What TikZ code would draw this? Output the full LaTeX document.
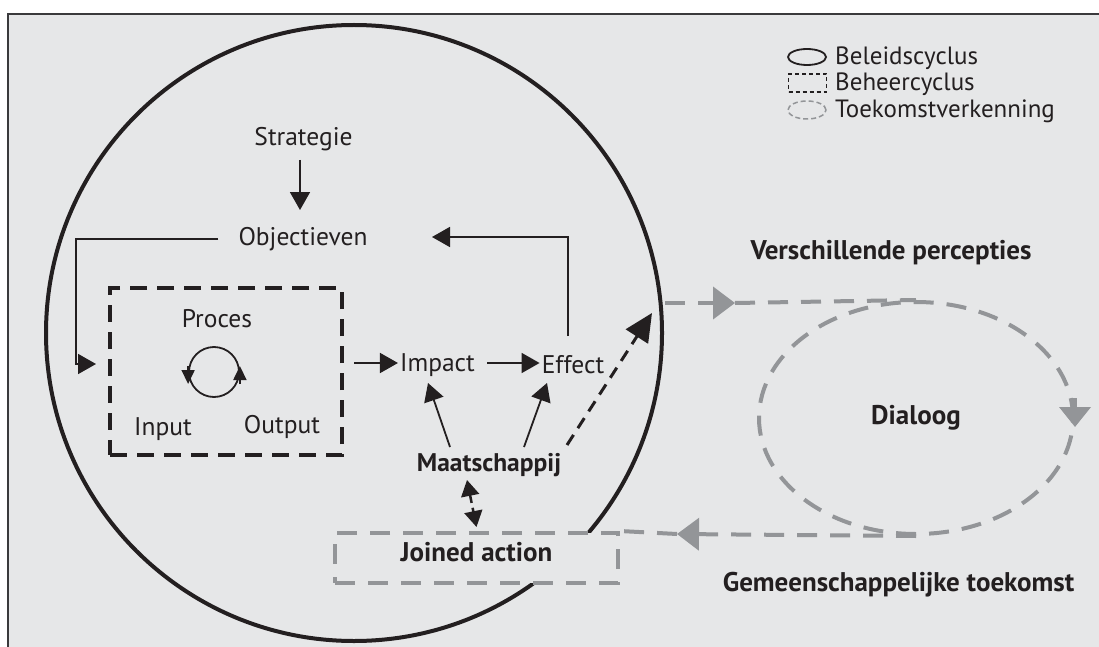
\documentclass[tikz,border=0pt]{standalone}
\usepackage{fontspec}
\setmainfont{PT Sans}
\usetikzlibrary{arrows.meta,shapes.geometric,calc}
\definecolor{bg}{HTML}{E6E7E8}
\definecolor{gr}{HTML}{939598}
\definecolor{ink}{HTML}{231F20}
\definecolor{frame}{HTML}{3A3A3C}
\begin{document}
\begin{tikzpicture}[x=1pt,y=-1pt,
  lbl/.style={font=\fontsize{25.5}{28}\selectfont, text=ink, inner sep=2pt},
  leg/.style={font=\fontsize{25}{28}\selectfont, text=ink, inner sep=2pt},
  blbl/.style={font=\fontsize{27}{30}\selectfont\bfseries, text=ink, inner sep=2pt},
  conn/.style={draw=ink, line width=1.8pt, -{Triangle[length=18pt,width=20pt]}},
  dconn/.style={draw=ink, line width=3pt, dash pattern=on 12pt off 8pt},
  gline/.style={draw=gr, line width=4pt, dash pattern=on 20pt off 13pt},
  gtip/.style={-{Triangle[length=22pt,width=32pt]}},
  bigcirc/.style={draw=ink, line width=4pt},
  procbox/.style={draw=ink, line width=4pt, dash pattern=on 17pt off 10pt, minimum width=232, minimum height=167},
]
\useasboundingbox (0,0) rectangle (1099,647);
\fill[bg] (8,14) rectangle (1099,647);
\draw[frame, line width=2pt] (8,647) -- (8,14) -- (1099,14);

% big policy circle
\draw[bigcirc] (354,333) circle (308);

% process box
\node[procbox] (proc) at (226,371.5) {};
\node[lbl] (proces) at (217,319) {Proces};
\node[lbl] (input) at (163,429) {Input};
\node[lbl] (output) at (282,427) {Output};
\node[circle, draw=ink, line width=1.8pt, minimum size=50, inner sep=0] (cyc) at (214,372) {};
\draw[draw=ink, line width=1.8pt, -{Triangle[length=14pt,width=13pt]}] ($(cyc.west)+(0,-6)$) -- ($(cyc.west)+(0,12)$);
\draw[draw=ink, line width=1.8pt, -{Triangle[length=14pt,width=13pt]}] ($(cyc.east)+(0,12)$) -- ($(cyc.east)+(0,-6)$);

% texts
\node[lbl] (strat) at (303.5,139) {Strategie};
\node[lbl] (obj) at (303,239) {Objectieven};
\node[lbl] (impact) at (437.5,365) {Impact};
\node[lbl] (effect) at (573,365) {Effect};
\node[blbl, font=\fontsize{25.5}{28}\selectfont\bfseries] (maat) at (489,465) {Maatschappij};
\node[blbl] (persp) at (891,253) {Verschillende percepties};
\node[blbl] (toek) at (898.5,585) {Gemeenschappelijke toekomst};

% joined action box
\node[draw=gr, fill=bg, line width=4pt, dash pattern=on 20pt off 13pt, minimum width=283, minimum height=50, blbl, text depth=0pt, text height=0.7em] (joined) at (476.5,558) {Joined action};

% dialog ellipse
\node[ellipse, draw=gr, line width=4pt, dash pattern=on 20pt off 13pt, minimum width=314, minimum height=232, blbl] (dialog) at (916,418) {Dialoog};

% black connectors
\coordinate (cA) at (76,364);
\coordinate (cB) at (432,237);
\coordinate (cP) at (652,313);
\draw[conn] ($(strat.center)+(-3.5,21)$) -- ($(obj.center)+(-3,-29)$);
\draw[conn, shorten <=18pt, shorten >=12pt] (obj.west) -| (cA) -- (proc.west |- cA);
\draw[conn] ($(proc.east |- cA)+(10,-1)$) -- ($(impact.west)+(0,-2)$);
\draw[conn, shorten <=10pt] ($(impact.east)+(0,-2)$) -- ($(effect.west)+(0,-2)$);
\draw[conn] ($(effect.center)+(-5,-29)$) |- (cB);
\draw[conn] ($(maat.center)+(-39,-18)$) -- ($(impact.center)+(-9.5,18)$);
\draw[conn] ($(maat.center)+(35,-18)$) -- ($(effect.center)+(-26,18)$);
\draw[dconn, -{Triangle[length=28pt,width=26pt]}] ($(maat.center)+(78,-20)$) -- (cP);
\draw[dconn, line width=2.5pt, dash pattern=on 8pt off 5pt, {Triangle[length=16pt,width=18pt]}-{Triangle[length=16pt,width=18pt]}] ($(maat.center)+(-22,15)$) -- ($(joined.north)+(0,-4)$);

% grey connectors
\coordinate (g1) at (665,303);
\coordinate (g2) at (735,303);
\coordinate (g3) at (677,534);
\draw[gline, gtip] (g1) -- (g2);
\draw[gline] (g2) -- (dialog.north);
\draw[draw=gr, line width=4pt, -{Triangle[length=20pt,width=31pt]}] ($(dialog.east)+(0,-20)$) -- ($(dialog.east)+(0,9)$);
\draw[gline, gtip] (dialog.south) -- (g3);
\draw[gline] (g3) -- (joined.north east);

% legend
\node[ellipse, draw=ink, line width=1.8pt, minimum width=38, minimum height=16, inner sep=0] (lg1) at (807,57) {};
\node[draw=ink, line width=1.8pt, dash pattern=on 4pt off 3pt, minimum width=38, minimum height=18, inner sep=0] (lg2) at (807.5,83) {};
\node[ellipse, draw=gr, line width=1.5pt, dash pattern=on 5pt off 3pt, minimum width=38, minimum height=18, inner sep=0] (lg3) at (807,110) {};
\node[leg, anchor=west] (lt1) at (833,58) {Beleidscyclus};
\node[leg, anchor=west] (lt2) at (833,84) {Beheercyclus};
\node[leg, anchor=west] (lt3) at (833,111) {Toekomstverkenning};
\end{tikzpicture}
\end{document}
